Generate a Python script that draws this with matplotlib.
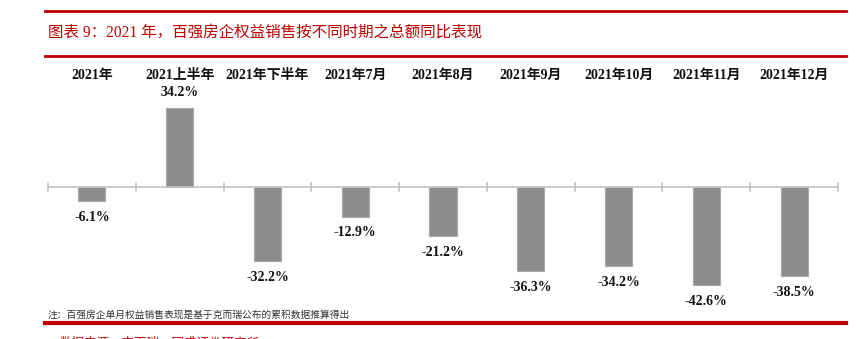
import matplotlib
matplotlib.use("Agg")
import matplotlib.pyplot as plt
from matplotlib.lines import Line2D
import matplotlib.transforms as mtransforms

# Data: YoY change of top-100 developers' attributable sales, by period
categories = ["2021年", "2021上半年", "2021年下半年", "2021年7月", "2021年8月",
              "2021年9月", "2021年10月", "2021年11月", "2021年12月"]
yoy_pct = [-6.1, 34.2, -32.2, -12.9, -21.2, -36.3, -34.2, -42.6, -38.5]

title_text = "图表 9：2021 年，百强房企权益销售按不同时期之总额同比表现"
note_text = "注：百强房企单月权益销售表现是基于克而瑞公布的累积数据推算得出"
source_text = "数据来源：克而瑞，国盛证券研究所"

W, H = 859, 339
RED = "#c00000"
BAR = "#8c8c8c"
AXIS = "#c3c3c3"
SERIF = ["Liberation Serif", "Noto Sans CJK SC"]
CJK = ["Noto Sans CJK SC", "DejaVu Sans"]

fig = plt.figure(figsize=(W / 100, H / 100), dpi=100)

# axes geometry in pixels (top-origin)
left_px, right_px = 48, 838
ymin, ymax = -50, 40
zero_px = 187
px_per_unit = 2.31
top_px = zero_px - ymax * px_per_unit
bot_px = zero_px - ymin * px_per_unit
ax = fig.add_axes([left_px / W, (H - bot_px) / H,
                   (right_px - left_px) / W, (bot_px - top_px) / H])
ax.set_xlim(-0.5, len(categories) - 0.5)
ax.set_ylim(ymin, ymax)
ax.axis("off")

x = list(range(len(categories)))
ax.bar(x, yoy_pct, width=0.31, color=BAR, edgecolor="#a8a8a8", linewidth=0.8, zorder=2)

# zero axis with category-boundary ticks
ax.axhline(0, color=AXIS, linewidth=1.2, zorder=3)
for b in range(len(categories) + 1):
    ax.plot([b - 0.5, b - 0.5], [-1.8, 1.8], color=AXIS, linewidth=1.2, zorder=3,
            clip_on=False)

# value labels
for xi, v in zip(x, yoy_pct):
    off = 6.5 if v >= 0 else -7.0
    ax.text(xi, v + off, f"{v:.1f}%", ha="center", va="center",
            fontsize=10, fontweight="bold", family=SERIF, color="#111111")

# category labels above the plot
trans = mtransforms.blended_transform_factory(ax.transData, fig.transFigure)
for xi, c in zip(x, categories):
    ax.text(xi, 1 - 75 / H, c, transform=trans, ha="center", va="center",
            fontsize=10, fontweight="bold", family=SERIF, color="#111111")

# header rules and title
for yp, lw in [(11, 2.0), (56, 2.0)]:
    fig.add_artist(Line2D([45 / W, 846 / W], [1 - yp / H] * 2, color=RED,
                          linewidth=lw, transform=fig.transFigure))
fig.text(48 / W, 1 - 33.5 / H, title_text, ha="left", va="center",
         fontsize=11.2, family=SERIF, color=RED)

# note, footer rule and source line
fig.text(48 / W, 1 - 315 / H, note_text, ha="left", va="center",
         fontsize=7, family=CJK, color="#333333")
fig.add_artist(Line2D([45 / W, 846 / W], [1 - 323 / H] * 2, color=RED,
                      linewidth=3.0, transform=fig.transFigure))
fig.text(60 / W, 1 - 343 / H, source_text, ha="left", va="center",
         fontsize=9, family=CJK, color=RED)

fig.savefig("out.png", dpi=100)
